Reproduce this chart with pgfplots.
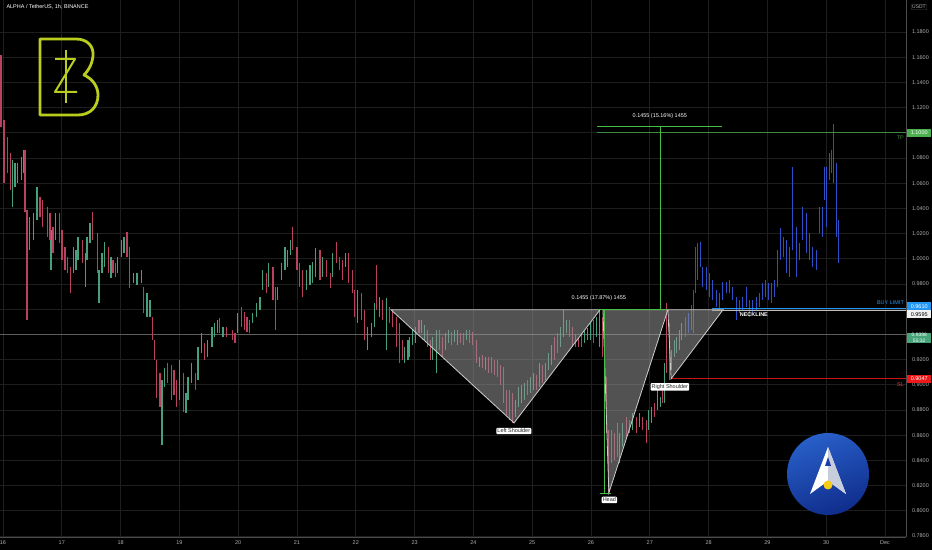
\documentclass[border=0pt]{standalone}
\usepackage{fontspec}
\setmainfont{Liberation Sans}
\usepackage{pgfplots}
\pgfplotsset{compat=1.18}
\usepackage{pgfplotstable}

\definecolor{upc}{RGB}{70,160,125}
\definecolor{dnc}{RGB}{185,65,95}
\definecolor{bluec}{RGB}{45,80,200}
\definecolor{gridc}{RGB}{30,30,30}
\definecolor{axc}{RGB}{75,75,75}
\definecolor{lbl}{RGB}{175,175,175}
\definecolor{tpg}{RGB}{76,175,80}
\definecolor{measg}{RGB}{70,190,70}
\definecolor{buyc}{RGB}{33,150,243}
\definecolor{slc}{RGB}{235,25,25}
\definecolor{curc}{RGB}{70,165,120}
\definecolor{curline}{RGB}{95,95,95}
\definecolor{neckc}{RGB}{190,190,190}
\definecolor{wbox}{RGB}{240,240,240}
\definecolor{usdtb}{RGB}{70,70,70}
\definecolor{trifill}{RGB}{150,150,150}
\definecolor{tridraw}{RGB}{205,205,205}
\definecolor{logoy}{RGB}{185,205,30}
\definecolor{circtop}{RGB}{40,95,200}
\definecolor{circbot}{RGB}{15,45,140}
\definecolor{arrowr}{RGB}{200,205,220}
\definecolor{arrowin}{RGB}{30,60,170}
\definecolor{dotc}{RGB}{245,205,20}
\newcommand\tf{\fontsize{5.5}{6.5}\selectfont}

\pgfplotstableread{
h lo hi
3.7 1.0411 1.0784
4.9 1.0570 1.0760
6.1 1.0602 1.0760
7.4 1.0625 1.0808
8.2 1.0681 1.0864
11.0 1.0070 1.0332
12.3 1.0149 1.0363
13.9 1.0308 1.0570
19.6 0.9911 1.0229
21.6 1.0149 1.0363
28.6 0.9887 1.0094
29.8 0.9911 1.0070
30.6 0.9990 1.0173
33.5 0.9776 1.0046
34.3 0.9990 1.0173
35.5 1.0125 1.0284
39.2 0.9649 0.9911
40.4 0.9887 1.0046
41.6 0.9935 1.0133
44.1 0.9848 1.0014
46.9 0.9887 1.0014
48.2 1.0014 1.0149
49.4 1.0046 1.0173
53.1 0.9808 0.9887
54.7 0.9792 0.9887
56.7 0.9808 0.9911
58.8 0.9538 0.9729
60.0 0.9538 0.9673
64.9 0.8522 0.9038
66.1 0.8983 0.9133
72.2 0.8879 0.9197
74.7 0.8776 0.8935
75.5 0.8879 0.9062
77.1 0.9014 0.9173
79.6 0.9038 0.9300
81.2 0.9252 0.9411
83.6 0.9221 0.9356
85.3 0.9300 0.9459
86.5 0.9379 0.9491
87.7 0.9411 0.9514
89.8 0.9379 0.9459
95.9 0.9411 0.9570
102.0 0.9491 0.9570
103.6 0.9538 0.9649
104.9 0.9594 0.9697
106.1 0.9752 0.9911
108.5 0.9776 0.9967
112.2 0.9673 0.9776
113.8 0.9832 0.9967
115.1 0.9911 1.0094
116.3 0.9935 1.0070
117.5 1.0030 1.0149
124.0 0.9752 0.9911
125.3 0.9792 0.9951
126.5 0.9808 0.9975
127.7 0.9856 1.0086
130.6 0.9856 1.0014
134.6 0.9856 1.0046
139.9 0.9935 1.0046
144.8 0.9491 0.9752
148.9 0.9276 0.9459
150.6 0.9379 0.9491
151.8 0.9459 0.9649
153.8 0.9538 0.9697
156.7 0.9276 0.9689
164.0 0.9173 0.9300
165.3 0.9197 0.9356
166.1 0.9221 0.9379
167.3 0.9316 0.9435
168.5 0.9332 0.9459
171.0 0.9411 0.9514
172.2 0.9356 0.9475
175.4 0.9197 0.9379
177.1 0.9094 0.9435
180.8 0.9276 0.9411
182.0 0.9332 0.9435
184.4 0.9340 0.9435
185.7 0.9316 0.9435
189.3 0.9356 0.9435
194.6 0.9141 0.9221
197.1 0.9117 0.9221
209.3 0.8744 0.8879
210.6 0.8824 0.8983
211.8 0.8856 0.8998
213.0 0.8879 0.9014
215.4 0.8935 0.9062
216.7 0.8959 0.9094
219.1 0.8983 0.9173
221.6 0.9038 0.9173
222.8 0.9117 0.9252
224.0 0.9157 0.9316
227.7 0.9300 0.9459
228.9 0.9379 0.9594
230.1 0.9411 0.9514
237.5 0.9332 0.9435
238.7 0.9356 0.9451
239.9 0.9356 0.9491
242.4 0.9379 0.9538
243.6 0.9300 0.9594
251.8 0.8379 0.8617
253.0 0.8506 0.8697
257.0 0.8641 0.8776
259.9 0.8665 0.8776
263.6 0.8641 0.8800
264.8 0.8697 0.8824
267.2 0.8800 0.8959
268.5 0.8824 0.8903
270.1 0.8856 0.9173
273.0 0.9117 0.9276
274.2 0.9221 0.9356
275.0 0.9252 0.9379
276.2 0.9276 0.9435
277.0 0.9356 0.9491
}\upbars

\pgfplotstableread{
h lo hi
-0.8 1.1046 1.1618
0.4 1.0602 1.1102
1.7 1.0681 1.0967
2.9 1.0546 1.0840
9.0 1.0371 1.0864
9.8 0.9514 1.0387
15.1 1.0332 1.0491
16.3 1.0252 1.0467
18.0 1.0173 1.0411
19.2 1.0149 1.0363
20.4 1.0046 1.0252
22.9 1.0125 1.0363
24.1 0.9990 1.0229
25.3 0.9911 1.0094
26.5 0.9887 1.0014
27.4 0.9729 0.9935
32.3 0.9967 1.0149
36.7 1.0149 1.0371
38.4 0.9887 1.0205
42.9 0.9887 1.0094
44.9 0.9887 0.9990
46.1 0.9856 0.9967
50.6 1.0014 1.0213
51.8 0.9768 1.0094
57.5 0.9570 0.9776
61.2 0.9356 0.9538
62.0 0.9197 0.9356
62.8 0.8895 0.9197
64.1 0.8824 0.9094
67.3 0.9014 0.9173
68.6 0.8879 0.9157
69.8 0.8919 0.9117
71.0 0.8824 0.9038
73.5 0.8784 0.9094
78.4 0.8959 0.9094
82.4 0.9197 0.9332
88.5 0.9411 0.9530
91.4 0.9379 0.9459
93.5 0.9356 0.9435
94.7 0.9332 0.9411
97.5 0.9459 0.9618
98.7 0.9435 0.9578
99.6 0.9419 0.9538
100.8 0.9411 0.9514
107.7 0.9729 0.9887
110.2 0.9673 0.9935
111.4 0.9435 0.9776
118.3 1.0070 1.0252
120.0 0.9911 1.0094
121.2 0.9776 0.9967
122.4 0.9697 0.9911
129.4 0.9832 1.0070
132.2 0.9856 0.9990
133.8 0.9768 0.9887
136.3 0.9967 1.0133
137.5 0.9911 1.0014
138.7 0.9832 0.9990
141.2 0.9808 1.0046
142.8 0.9729 0.9911
143.6 0.9538 0.9752
146.5 0.9514 0.9729
147.7 0.9356 0.9594
152.6 0.9594 0.9951
155.0 0.9514 0.9673
157.9 0.9491 0.9618
159.1 0.9459 0.9594
160.8 0.9300 0.9538
162.0 0.9173 0.9491
163.2 0.9197 0.9356
169.8 0.9411 0.9514
173.4 0.9300 0.9435
174.6 0.9197 0.9356
178.3 0.9276 0.9435
179.5 0.9221 0.9379
183.2 0.9316 0.9419
186.9 0.9332 0.9411
188.1 0.9316 0.9411
190.5 0.9332 0.9435
191.8 0.9316 0.9419
193.4 0.9173 0.9356
195.9 0.9133 0.9237
198.3 0.9094 0.9221
199.5 0.9094 0.9221
200.8 0.9078 0.9197
202.0 0.9062 0.9197
203.2 0.8998 0.9157
204.4 0.8856 0.9141
205.7 0.8760 0.8959
206.9 0.8721 0.8959
208.1 0.8697 0.8935
214.2 0.8919 0.9038
217.9 0.8959 0.9078
220.3 0.9014 0.9157
225.2 0.9197 0.9379
226.5 0.9252 0.9411
231.4 0.9379 0.9514
232.6 0.9300 0.9459
233.8 0.9300 0.9395
235.0 0.9300 0.9379
236.3 0.9300 0.9411
241.2 0.9332 0.9514
244.8 0.9221 0.9538
245.6 0.8959 0.9276
246.5 0.8617 0.9062
247.3 0.8141 0.8641
248.5 0.8379 0.8641
249.7 0.8403 0.8617
250.9 0.8427 0.8697
254.6 0.8586 0.8744
255.8 0.8617 0.8721
258.7 0.8617 0.8744
261.1 0.8641 0.8744
262.8 0.8538 0.8721
266.0 0.8744 0.8856
269.3 0.8856 0.8959
270.9 0.9094 0.9649
272.2 0.9038 0.9491
}\downbars

\pgfplotstableread{
h lo hi
278.7 0.9379 0.9538
279.9 0.9411 0.9570
281.1 0.9435 0.9633
281.9 0.9411 0.9752
282.7 0.9729 1.0094
283.6 0.9832 1.0125
284.8 0.9935 1.0133
285.6 0.9776 0.9935
287.2 0.9752 0.9935
288.5 0.9697 0.9887
289.7 0.9673 0.9832
291.3 0.9618 0.9752
292.5 0.9594 0.9729
293.8 0.9673 0.9816
295.4 0.9729 0.9816
296.6 0.9729 0.9832
297.8 0.9673 0.9776
299.5 0.9514 0.9697
300.7 0.9570 0.9673
301.9 0.9594 0.9697
303.6 0.9618 0.9776
304.8 0.9538 0.9673
306.0 0.9570 0.9673
307.6 0.9594 0.9697
308.9 0.9618 0.9729
310.1 0.9673 0.9808
311.3 0.9697 0.9832
312.5 0.9673 0.9808
313.8 0.9649 0.9808
315.0 0.9697 0.9832
316.2 0.9776 1.0070
317.4 0.9990 1.0244
318.6 1.0014 1.0173
319.9 0.9887 1.0149
321.1 0.9856 1.0094
322.3 1.0070 1.0729
324.0 0.9856 1.0252
325.2 0.9990 1.0125
326.4 1.0149 1.0411
328.0 1.0046 1.0363
329.3 0.9990 1.0205
330.5 0.9935 1.0094
332.1 0.9911 1.0070
333.3 1.0205 1.0411
334.6 1.0173 1.0411
335.4 1.0467 1.0729
336.2 1.0252 1.0729
337.4 1.0625 1.0840
338.2 1.0681 1.0864
339.0 1.0602 1.1070
340.3 1.0173 1.0760
341.1 0.9967 1.0308
}\bluebars

\begin{document}
\begin{tikzpicture}[x=1bp,y=1bp]
\useasboundingbox (0,0) rectangle (932,550);
\fill[black] (0,0) rectangle (932,550);
\begin{axis}[
  at={(0bp,13bp)}, anchor=south west,
  scale only axis, width=906bp, height=537bp,
  xmin=-1.22, xmax=368.6, ymin=0.7792, ymax=1.2054,
  axis x line*=bottom, axis y line*=right,
  axis line style={draw=axc, line width=0.7bp},
  clip=false,
  xtick={0,24,48,72,96,120,144,168,192,216,240,264,288,312,336,360},
  xticklabels={16,17,18,19,20,21,22,23,24,25,26,27,28,29,30,Dec},
  ytick={0.78,0.80,0.82,0.84,0.86,0.88,0.90,0.92,0.94,0.96,0.98,1.00,1.02,1.04,1.06,1.08,1.10,1.12,1.14,1.16,1.18},
  yticklabels={0.7800,0.8000,0.8200,0.8400,0.8600,0.8800,0.9000,0.9200,,,0.9800,1.0000,1.0200,1.0400,1.0600,1.0800,,1.1200,1.1400,1.1600,1.1800},
  yticklabel style={xshift=2.5bp},
  xticklabel style={anchor=center, yshift=-6bp},
  tick label style={font=\tf, text=lbl},
  tick style={draw=none},
  major tick length=0pt,
  grid=major, major grid style={draw=gridc, line width=0.6bp},
]
% current price line
\addplot[draw=curline, line width=0.6bp, forget plot] coordinates {(-1.22,0.9398) (368.6,0.9398)};

% bars
\addplot[draw=none, mark=none, forget plot, error bars/.cd, y dir=both, y explicit, error mark=none, error bar style={draw=upc, line width=1.1bp}]
  table[x=h, y expr={(\thisrow{lo}+\thisrow{hi})/2}, y error expr={(\thisrow{hi}-\thisrow{lo})/2}] {\upbars};
\addplot[draw=none, mark=none, forget plot, error bars/.cd, y dir=both, y explicit, error mark=none, error bar style={draw=dnc, line width=1.1bp}]
  table[x=h, y expr={(\thisrow{lo}+\thisrow{hi})/2}, y error expr={(\thisrow{hi}-\thisrow{lo})/2}] {\downbars};
\addplot[draw=none, mark=none, forget plot, error bars/.cd, y dir=both, y explicit, error mark=none, error bar style={draw=bluec, line width=1.1bp}]
  table[x=h, y expr={(\thisrow{lo}+\thisrow{hi})/2}, y error expr={(\thisrow{hi}-\thisrow{lo})/2}] {\bluebars};

% levels
\addplot[draw=neckc, line width=0.6bp, forget plot] coordinates {(289.3,0.9595) (368.6,0.9595)};
\addplot[draw=buyc, line width=0.8bp, forget plot] coordinates {(289.3,0.9610) (368.6,0.9610)};
\addplot[draw=slc!85!black, line width=0.8bp, forget plot] coordinates {(272.6,0.9047) (368.6,0.9047)};
\addplot[draw=tpg!80!black, line width=0.8bp, forget plot] coordinates {(242.4,1.1000) (368.6,1.1000)};

% triangles
\addplot[fill=trifill, fill opacity=0.55, draw=tridraw, line width=0.8bp, forget plot] coordinates {(158.4,0.9595) (208.6,0.8697) (243.7,0.9595)} -- cycle;
\addplot[fill=trifill, fill opacity=0.55, draw=tridraw, line width=0.8bp, forget plot] coordinates {(244.9,0.9595) (247.3,0.8141) (271.4,0.9595)} -- cycle;
\addplot[fill=trifill, fill opacity=0.55, draw=tridraw, line width=0.8bp, forget plot] coordinates {(271.4,0.9595) (272.7,0.9047) (293.9,0.9595)} -- cycle;

% measurement lines
\addplot[draw=measg, line width=0.8bp, forget plot] coordinates {(242.8,0.9595) (271.4,0.9595)};
\addplot[draw=measg, line width=0.8bp, forget plot] coordinates {(245.5,0.9595) (245.5,0.8141)};
\addplot[draw=measg, line width=0.8bp, forget plot] coordinates {(243.6,0.8141) (248.1,0.8141)};
\addplot[draw=measg, line width=0.8bp, forget plot] coordinates {(268.2,0.9595) (268.2,1.1050)};
\addplot[draw=measg, line width=0.8bp, forget plot] coordinates {(242.4,1.1050) (293.4,1.1050)};

% labels
\node[font=\tf, text=white] at (axis cs:243.2,0.9689) {0.1455 (17.87\%) 1455};
\node[font=\tf, text=white] at (axis cs:268.1,1.1133) {0.1455 (15.16\%) 1455};
\tikzset{lblbox/.style={fill=white, rounded corners=1bp, inner sep=1.2bp, font=\tf, text=black!85}}
\node[lblbox] at (axis cs:208.5,0.8633) {Left Shoulder};
\node[lblbox] at (axis cs:247.5,0.8086) {Head};
\node[lblbox] at (axis cs:272.2,0.8983) {Right Shoulder};
\node[font=\tf\bfseries, text=white] at (axis cs:306.5,0.9556) {NECKLINE};
\node[anchor=east, font=\tf, text=buyc, inner sep=0.5bp] at (axis cs:368.0,0.9655) {BUY LIMIT};
\node[anchor=east, font=\tf, text=tpg!75!black, inner sep=0.5bp] at (axis cs:368.0,1.0960) {TP};
\node[anchor=east, font=\tf, text=slc!85!white, inner sep=0.5bp] at (axis cs:368.0,0.9005) {SL};

% anchors for the price boxes on the right scale
\coordinate (bTP) at (axis cs:368.6,1.1000);
\coordinate (bBUY) at (axis cs:368.6,0.9624);
\coordinate (bNECK) at (axis cs:368.6,0.9560);
\coordinate (bCUR) at (axis cs:368.6,0.9372);
\coordinate (bSL) at (axis cs:368.6,0.9047);
\end{axis}

\tikzset{pbox/.style={anchor=west, xshift=1bp, minimum width=24bp, minimum height=8bp, inner sep=0.6bp, font=\tf, text=white}}
\node[pbox, fill=tpg] at (bTP) {1.1000};
\node[pbox, fill=buyc] at (bBUY) {0.9610};
\node[pbox, fill=wbox, text=black] at (bNECK) {0.9595};
\node[pbox, fill=curc, align=center, font=\fontsize{5}{5.6}\selectfont] at (bCUR) {0.9398\\55:32};
\node[pbox, fill=slc] at (bSL) {0.9047};

% title and currency
\node[anchor=west, font=\tf, text=white] at (3,543) {ALPHA / TetherUS, 1h, BINANCE};
\node[draw=usdtb, fill=black, rounded corners=1bp, inner sep=1bp, font=\fontsize{5}{6}\selectfont, text=lbl] at (919,543) {USDT};

% B logo
\draw[logoy, line width=2.8bp, line join=round] (40,435) -- (40,511) -- (76,511)
  .. controls (88,511) and (94,503) .. (93,494)
  .. controls (92,485) and (88,479) .. (84,475)
  .. controls (93,471) and (98,463) .. (98,455)
  .. controls (98,443) and (90,435) .. (78,435) -- cycle;
\draw[logoy, line width=2bp, line join=round] (55,491) -- (75,491) -- (55,458) -- (77,458);
\draw[logoy, line width=2bp] (66,500) -- (66,447);

% circle logo
\shade[top color=circtop, bottom color=circbot, shading angle=20] (828,76) circle (41);
\fill[white] (828,103) -- (846,56) -- (828,69) -- (810,56) -- cycle;
\fill[arrowr] (828,103) -- (846,56) -- (828,69) -- cycle;
\fill[arrowin] (828,93) -- (831,84) -- (825,84) -- cycle;
\fill[dotc] (828,65) circle (4.5);
\end{tikzpicture}
\end{document}
